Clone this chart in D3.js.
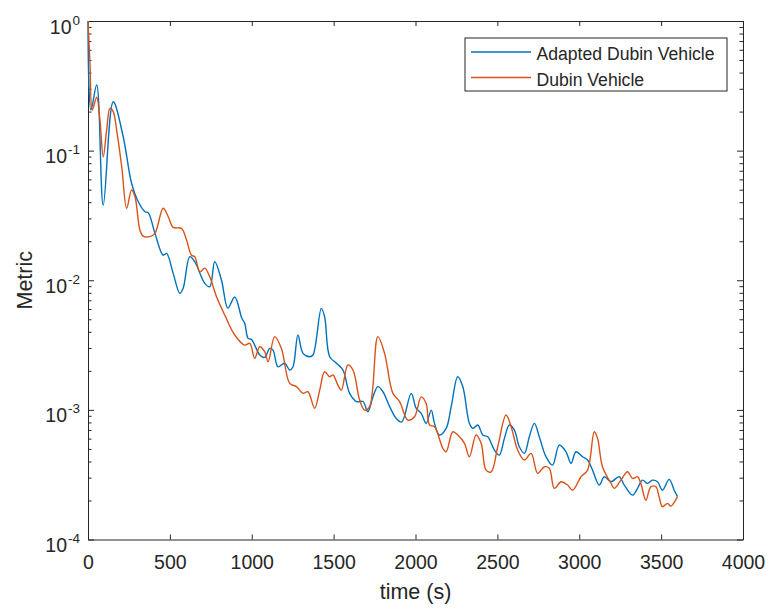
<!DOCTYPE html>
<html>
<head>
<meta charset="utf-8">
<script src="https://cdn.jsdelivr.net/npm/d3@7"></script>
<style>
  body { margin: 0; background: #fff; }
  svg text { font-family: "Liberation Sans", Arial, sans-serif; fill: #262626; }
</style>
</head>
<body>
<svg id="chart" width="772" height="609"></svg>
<script>
// Series
const adaptedT = [0,18,53,93,154,215,266,307,348,368,409,459,480,520,561,581,622,652,713,744,774,815,854,896,939,957,978,998,1018,1049,1079,1110,1130,1160,1201,1232,1252,1282,1313,1354,1374,1425,1445,1476,1517,1557,1598,1639,1679,1709,1740,1770,1801,1842,1882,1915,1974,2004,2035,2065,2096,2116,2146,2187,2218,2258,2289,2329,2350,2380,2411,2441,2482,2512,2543,2573,2604,2634,2665,2695,2726,2756,2797,2837,2878,2919,2950,2980,3020,3051,3081,3122,3153,3194,3244,3275,3325,3356,3386,3417,3447,3478,3508,3549,3580,3600];
const adaptedV = [1,0.206,0.321,0.038,0.238,0.128,0.056,0.0403,0.0338,0.0332,0.023,0.0156,0.0161,0.0113,0.00792,0.00867,0.0152,0.0139,0.00946,0.00891,0.0139,0.01004,0.0061,0.00742,0.00511,0.00465,0.00356,0.0035,0.00316,0.00265,0.00254,0.00298,0.00289,0.00215,0.00229,0.00203,0.00215,0.00378,0.00273,0.00257,0.00265,0.00607,0.00523,0.00257,0.00229,0.00203,0.00134,0.00116,0.00116,0.000967,0.00126,0.00151,0.00138,0.00106,0.000859,0.000805,0.00134,0.00103,0.00094,0.000787,0.000996,0.000787,0.00064,0.00072,0.00106,0.0018,0.00151,0.000787,0.00072,0.000764,0.00064,0.00062,0.00049,0.000448,0.000603,0.000764,0.000698,0.000519,0.000462,0.00062,0.000787,0.00062,0.000435,0.000375,0.000535,0.000475,0.000387,0.000475,0.000435,0.00041,0.000343,0.000263,0.000305,0.000279,0.000305,0.000263,0.00022,0.000248,0.000287,0.000271,0.000287,0.000279,0.00024,0.000291,0.00024,0.000214];

const dubinT = [0,12,26,53,73,93,114,134,154,175,206,236,266,287,317,337,378,409,459,490,520,571,602,632,652,683,713,744,785,835,896,957,988,1018,1049,1079,1100,1140,1181,1232,1273,1313,1343,1384,1415,1445,1476,1496,1526,1547,1587,1618,1659,1689,1720,1770,1811,1862,1903,1953,1994,2035,2065,2086,2116,2167,2187,2228,2258,2299,2329,2370,2401,2431,2462,2502,2553,2584,2624,2665,2706,2746,2787,2817,2848,2889,2929,2959,3011,3051,3092,3112,3142,3194,3214,3254,3295,3325,3356,3376,3407,3437,3468,3488,3508,3539,3559,3600];
const dubinV = [1,0.472,0.206,0.258,0.172,0.0897,0.144,0.212,0.2,0.144,0.0751,0.0359,0.0497,0.0441,0.0244,0.0219,0.0217,0.023,0.0359,0.0309,0.0256,0.0251,0.0204,0.0156,0.0152,0.0116,0.0124,0.0106,0.00746,0.00539,0.00378,0.00316,0.00326,0.0025,0.00307,0.00281,0.00235,0.00367,0.00298,0.0016,0.00151,0.00134,0.00138,0.00103,0.00142,0.00197,0.0018,0.00186,0.00155,0.00142,0.00222,0.00203,0.00119,0.000996,0.00106,0.00367,0.00273,0.00134,0.00116,0.000834,0.000885,0.00126,0.00112,0.000764,0.000741,0.000505,0.000475,0.000678,0.00064,0.000552,0.000435,0.00064,0.000552,0.000343,0.000333,0.000519,0.000912,0.000741,0.00049,0.00041,0.000462,0.000324,0.000364,0.000354,0.000248,0.000279,0.000263,0.00024,0.000305,0.000343,0.000678,0.000603,0.000364,0.000271,0.000248,0.000287,0.000333,0.000296,0.000305,0.000271,0.000201,0.000255,0.000255,0.000213,0.000179,0.00019,0.000181,0.000214];

const seriesNames = ["Adapted Dubin Vehicle", "Dubin Vehicle"];
const seriesColors = ["#0072BD", "#D95319"];
const xTicks = [0, 500, 1000, 1500, 2000, 2500, 3000, 3500, 4000];
const yExponents = [0, -1, -2, -3, -4];

const margin = { left: 88, right: 29, top: 21, bottom: 69.5 };
const width = 772, height = 609;
const svg = d3.select("#chart");

const x = d3.scaleLinear().domain([0, 4000]).range([margin.left, width - margin.right]);
const y = d3.scaleLog().domain([1e-4, 1]).range([height - margin.bottom, margin.top]);

// minor ticks for log axis
const minorTicks = [];
for (let e = -4; e < 0; e++) {
    for (let k = 2; k <= 9; k++) minorTicks.push(k * Math.pow(10, e));
}

const axisColor = "#262626";
const styleAxis = g => {
    g.select(".domain").attr("stroke", axisColor);
    g.selectAll(".tick line").attr("stroke", axisColor);
};

// Bottom axis
svg.append("g")
    .attr("transform", `translate(0,${y.range()[0]})`)
    .call(d3.axisBottom(x).tickValues(xTicks).tickFormat(d3.format("d")).tickSizeInner(-5).tickSizeOuter(0).tickPadding(16))
    .call(styleAxis)
    .call(g => g.selectAll(".tick text").style("font-size", "19.5px").attr("fill", axisColor));

// Top axis (ticks only)
svg.append("g")
    .attr("transform", `translate(0,${y.range()[1]})`)
    .call(d3.axisTop(x).tickValues(xTicks).tickSizeInner(-5).tickSizeOuter(0).tickFormat(""))
    .call(styleAxis);

// Left and right log axes, major + minor ticks
[[d3.axisLeft, x.range()[0]], [d3.axisRight, x.range()[1]]].forEach(([ax, px]) => {
    svg.append("g")
        .attr("transform", `translate(${px},0)`)
        .call(ax(y).tickValues(yExponents.map(e => Math.pow(10, e))).tickSizeInner(-6).tickSizeOuter(0).tickFormat(""))
        .call(styleAxis);
    svg.append("g")
        .attr("transform", `translate(${px},0)`)
        .call(ax(y).tickValues(minorTicks).tickSizeInner(-3.5).tickSizeOuter(0).tickFormat(""))
        .call(g => g.select(".domain").remove())
        .call(g => g.selectAll(".tick line").attr("stroke", axisColor));
});

// Y tick labels as 10^e
yExponents.forEach(e => {
    const t = svg.append("text")
        .attr("x", x.range()[0] - 8)
        .attr("y", y(Math.pow(10, e)) + 12.5)
        .attr("text-anchor", "end")
        .style("font-size", "19.5px");
    t.append("tspan").text("10");
    t.append("tspan").attr("dx", 1).attr("dy", -9).style("font-size", "13.5px").text(String(e));
});

// Lines
const line = d3.line()
    .curve(d3.curveCatmullRom.alpha(0.5))
    .x(d => x(d[0]))
    .y(d => y(d[1]));

const series = [
    d3.zip(adaptedT, adaptedV),
    d3.zip(dubinT, dubinV)
];

series.forEach((s, i) => {
    svg.append("path")
        .datum(s)
        .attr("fill", "none")
        .attr("stroke", seriesColors[i])
        .attr("stroke-width", 1.4)
        .attr("stroke-linejoin", "round")
        .attr("d", line);
});

// Axis labels
svg.append("text")
    .attr("x", (x.range()[0] + x.range()[1]) / 2)
    .attr("y", 599)
    .attr("text-anchor", "middle")
    .style("font-size", "21.5px")
    .text("time (s)");

svg.append("text")
    .attr("transform", `translate(32,${(y.range()[0] + y.range()[1]) / 2}) rotate(-90)`)
    .attr("text-anchor", "middle")
    .style("font-size", "21.5px")
    .text("Metric");

// Legend
const legend = svg.append("g").attr("transform", "translate(465,38)");
legend.append("rect")
    .attr("width", 262)
    .attr("height", 53)
    .attr("fill", "#fff")
    .attr("stroke", axisColor)
    .attr("stroke-width", 1);

seriesNames.forEach((name, i) => {
    const yy = 14 + i * 25.5;
    legend.append("line")
        .attr("x1", 6).attr("x2", 66)
        .attr("y1", yy).attr("y2", yy)
        .attr("stroke", seriesColors[i])
        .attr("stroke-width", 1.4);
    legend.append("text")
        .attr("x", 71.5)
        .attr("y", yy + 8)
        .style("font-size", "17.6px")
        .text(name);
});
</script>
</body>
</html>
